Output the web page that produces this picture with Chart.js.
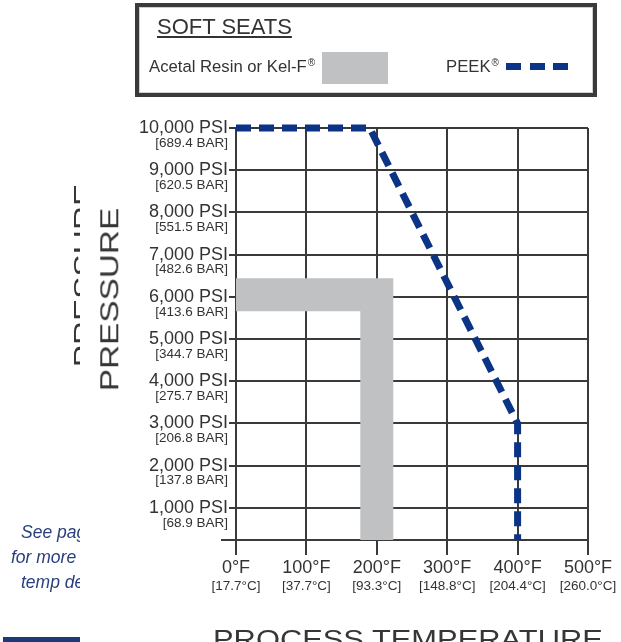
<!DOCTYPE html>
<html>
<head>
<meta charset="utf-8">
<script src="https://cdn.jsdelivr.net/npm/chart.js@4.4.1/dist/chart.umd.min.js"></script>
<style>
  html, body { margin: 0; padding: 0; background: #fff; }
  body { width: 621px; height: 642px; position: relative; overflow: hidden;
         font-family: "Liberation Sans", Arial, sans-serif; color: #333; }
  #wrap { position: absolute; left: 0; top: 0; width: 621px; height: 642px; }
  .abs { position: absolute; white-space: nowrap; line-height: 1; }
  #legendBox { position: absolute; left: 135px; top: 3px; width: 462px; height: 94px;
               box-sizing: border-box; border: 4px solid #3a3a3a; box-shadow: inset 0 0 0 1px #cfcfcf; }
  #legendTitle { left: 157px; top: 16.4px; font-size: 22px; text-decoration: underline;
                 text-decoration-thickness: 1.5px; text-underline-offset: 2px; }
  .legText { font-size: 16.7px; top: 59px; }
  .legText sup { font-size: 10px; vertical-align: 6px; line-height: 0; margin-left: 1px; }
  #swatch { position: absolute; left: 322px; top: 52px; width: 66px; height: 32px; background: #c0c1c3; }
  .dash { position: absolute; top: 63px; width: 15px; height: 7px; background: #0b3486; }
  .title { font-size: 25px; color: #363636; }
  #side { position: absolute; left: 0; top: 0; width: 80px; height: 642px; overflow: hidden; }
  .note { font-size: 17.5px; font-style: italic; color: #2a3f7d; }
  #bluebar { position: absolute; left: 3px; top: 637px; width: 77px; height: 5px; background: #1c3a7a; }
</style>
</head>
<body>
<div id="wrap"><canvas id="chart"></canvas></div>

<div id="legendBox"></div>
<div class="abs" id="legendTitle">SOFT SEATS</div>
<div class="abs legText" style="left:149px">Acetal Resin or Kel-F<sup>®</sup></div>
<div id="swatch"></div>
<div class="abs legText" style="left:446px">PEEK<sup>®</sup></div>
<div class="dash" style="left:506px"></div>
<div class="dash" style="left:530px"></div>
<div class="dash" style="left:553px"></div>

<div class="abs title" id="yTitle">PRESSURE</div>
<div class="abs title" id="xTitle">PROCESS TEMPERATURE</div>

<div id="side">
  <div class="abs title" id="ghostTitle">PRESSURE</div>
  <div class="abs note" style="left:21px; top:524px">See pag</div>
  <div class="abs note" style="left:11px; top:549px">for more</div>
  <div class="abs note" style="left:21px; top:574px">temp de</div>
</div>
<div id="bluebar"></div>

<script>
// temperature axis (°F) with the matching °C labels
const TEMP_TICKS = [0, 100, 200, 300, 400, 500];
const TEMP_F_LABELS = ['0°F', '100°F', '200°F', '300°F', '400°F', '500°F'];
const TEMP_C_LABELS = ['[17.7°C]', '[37.7°C]', '[93.3°C]', '[148.8°C]', '[204.4°C]', '[260.0°C]'];

// pressure axis (PSI) with the matching BAR labels
const PSI_TICKS = [1000, 2000, 3000, 4000, 5000, 6000, 7000, 8000, 9000, 10000];
const PSI_LABELS = ['1,000 PSI', '2,000 PSI', '3,000 PSI', '4,000 PSI', '5,000 PSI',
                    '6,000 PSI', '7,000 PSI', '8,000 PSI', '9,000 PSI', '10,000 PSI'];
const BAR_LABELS = ['[68.9 BAR]', '[137.8 BAR]', '[206.8 BAR]', '[275.7 BAR]', '[344.7 BAR]',
                    '[413.6 BAR]', '[482.6 BAR]', '[551.5 BAR]', '[620.5 BAR]', '[689.4 BAR]'];
const PSI_MIN = 240; // the grid stops a little under 1,000 PSI

// seat ratings
const ACETAL_TEMP = [0, 200, 200];
const ACETAL_PSI = [6050, 6050, 0];
const PEEK_TEMP = [0, 190, 400, 400];
const PEEK_PSI = [10000, 10000, 3000, 0];

const GRID = '#3a3a3a';
const TEXT = '#333';
const FONT = '"Liberation Sans", Arial, sans-serif';
Chart.defaults.font.family = FONT;

const toPoints = (xs, ys) => xs.map((x, i) => ({ x, y: ys[i] }));
const labelFrom = (values, labels) => v => {
  const i = values.indexOf(v);
  return i < 0 ? '' : labels[i];
};
const fixTicks = values => scale => { scale.ticks = values.map(v => ({ value: v })); };

// second (BAR) line under each PSI label, plus the axis stub left of the bottom line
const barLabels = {
  id: 'barLabels',
  afterDraw(chart) {
    const y = chart.scales.y;
    const ctx = chart.ctx;
    ctx.save();
    ctx.font = '13.5px ' + FONT;
    ctx.fillStyle = TEXT;
    ctx.textAlign = 'right';
    ctx.textBaseline = 'middle';
    PSI_TICKS.forEach((v, i) => {
      ctx.fillText(BAR_LABELS[i], y.right - 8, y.getPixelForValue(v) + 15);
    });
    const yb = y.getPixelForValue(PSI_MIN);
    ctx.strokeStyle = GRID;
    ctx.lineWidth = 2;
    ctx.beginPath();
    ctx.moveTo(y.right - 15, yb);
    ctx.lineTo(y.right, yb);
    ctx.stroke();
    ctx.restore();
  }
};

new Chart(document.getElementById('chart'), {
  type: 'line',
  data: {
    datasets: [
      {
        label: 'Acetal Resin or Kel-F',
        data: toPoints(ACETAL_TEMP, ACETAL_PSI),
        borderColor: '#c0c1c3',
        borderWidth: 33,
        borderJoinStyle: 'miter',
        borderCapStyle: 'butt',
        pointRadius: 0,
        fill: false,
        clip: 0,
        order: 2
      },
      {
        label: 'PEEK',
        data: toPoints(PEEK_TEMP, PEEK_PSI),
        borderColor: '#0b3486',
        borderWidth: 7,
        borderDash: [15, 8],
        borderJoinStyle: 'miter',
        borderCapStyle: 'butt',
        pointRadius: 0,
        fill: false,
        clip: { left: 0, top: 8, right: 8, bottom: 0 },
        order: 1
      }
    ]
  },
  options: {
    responsive: true,
    maintainAspectRatio: false,
    animation: false,
    layout: { padding: { top: 128, right: 33, left: 0, bottom: 0 } },
    plugins: { legend: { display: false }, tooltip: { enabled: false } },
    scales: {
      x: {
        type: 'linear', position: 'bottom', min: 0, max: 500,
        afterBuildTicks: fixTicks(TEMP_TICKS),
        afterFit: s => { s.height = 40; },
        grid: { color: GRID, lineWidth: 2, tickLength: 15 },
        border: { color: GRID, width: 2 },
        ticks: { font: { size: 18 }, color: TEXT, padding: 2, maxRotation: 0, autoSkip: false,
                 callback: labelFrom(TEMP_TICKS, TEMP_F_LABELS) }
      },
      x2: {
        type: 'linear', position: 'bottom', min: 0, max: 500,
        afterBuildTicks: fixTicks(TEMP_TICKS),
        afterFit: s => { s.height = 62; },
        grid: { display: false, drawTicks: false },
        border: { display: false },
        ticks: { font: { size: 13.5 }, color: TEXT, padding: -2, maxRotation: 0, autoSkip: false,
                 callback: labelFrom(TEMP_TICKS, TEMP_C_LABELS) }
      },
      y: {
        type: 'linear', position: 'left', min: PSI_MIN, max: 10000,
        afterBuildTicks: fixTicks(PSI_TICKS),
        afterFit: s => { s.width = 236; },
        grid: { color: GRID, lineWidth: 2, tickLength: 7 },
        border: { color: GRID, width: 2 },
        ticks: { font: { size: 18 }, color: TEXT, padding: 1, autoSkip: false,
                 callback: labelFrom(PSI_TICKS, PSI_LABELS) }
      }
    }
  },
  plugins: [barLabels]
});

// axis titles are set in a wide face: stretch them to the measured lengths
function placeTitle(id, cx, cy, length, angle) {
  const el = document.getElementById(id);
  const w = el.offsetWidth, h = el.offsetHeight;
  el.style.left = (cx - w / 2) + 'px';
  el.style.top = (cy - h / 2) + 'px';
  el.style.transform = 'rotate(' + angle + 'deg) scaleX(' + (length / w) + ')';
}
placeTitle('yTitle', 110, 299, 184, -90);
placeTitle('ghostTitle', 84, 275, 184, -90);
placeTitle('xTitle', 408, 639, 390, 0);
</script>
</body>
</html>
